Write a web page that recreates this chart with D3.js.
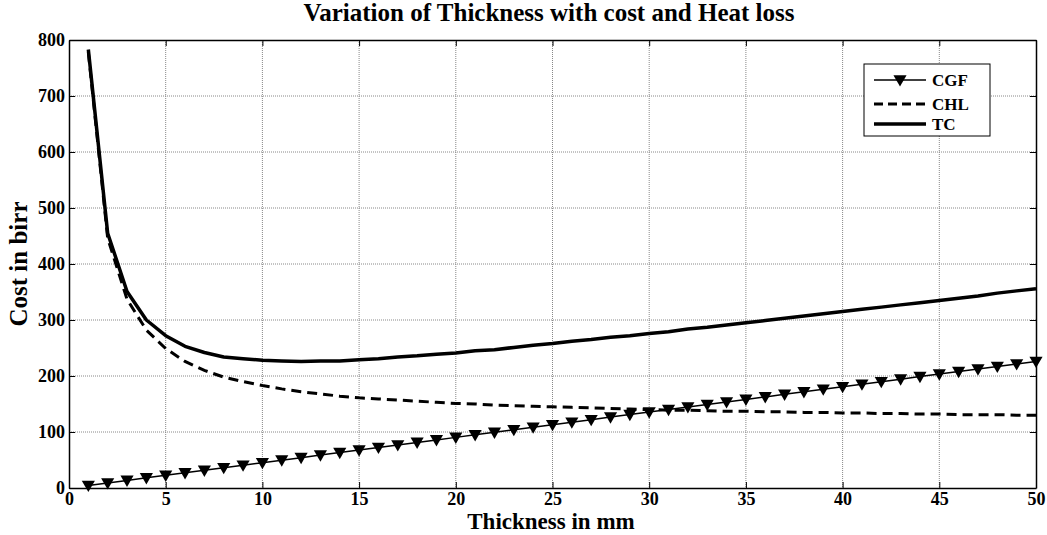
<!DOCTYPE html>
<html>
<head>
<meta charset="utf-8">
<script src="https://cdn.jsdelivr.net/npm/d3@7"></script>
<style>
  body { margin: 0; background: #fff; }
  svg text { font-family: "Liberation Serif", "Times New Roman", Times, serif !important; font-weight: bold; fill: #000; }
</style>
</head>
<body>
<div id="chart"></div>
<script>
const thickness = d3.range(1, 51);

const cgf = [4.5, 9.0, 13.6, 18.1, 22.6, 27.1, 31.6, 36.2, 40.7, 45.2,
  49.7, 54.2, 58.8, 63.3, 67.8, 72.3, 76.8, 81.4, 85.9, 90.4,
  94.9, 99.4, 104.0, 108.5, 113.0, 117.5, 122.0, 126.6, 131.1, 135.6,
  140.1, 144.6, 149.2, 153.7, 158.2, 162.7, 167.2, 171.8, 176.3, 180.8,
  185.3, 189.8, 194.4, 198.9, 203.4, 207.9, 212.4, 217.0, 221.5, 226.0];

const chl = [778, 446, 337, 282, 249, 226, 210, 198, 190, 183,
  177, 172, 168, 164, 161, 159, 157, 155, 153, 151,
  150, 148, 147, 146, 145, 144, 143, 142, 141, 140,
  139, 139, 138, 137, 137, 136, 136, 135, 135, 134,
  134, 133, 133, 132, 132, 131, 131, 131, 130, 130];

const tc = [783, 455, 351, 300, 272, 253, 242, 234, 231, 228,
  227, 226, 227, 227, 229, 231, 234, 236, 239, 241,
  245, 247, 251, 255, 258, 262, 265, 269, 272, 276,
  279, 284, 287, 291, 295, 299, 303, 307, 311, 315,
  319, 323, 327, 331, 335, 339, 343, 348, 352, 356];

const xTicks = [0, 5, 10, 15, 20, 25, 30, 35, 40, 45, 50];
const yTicks = [0, 100, 200, 300, 400, 500, 600, 700, 800];
const seriesNames = ['CGF', 'CHL', 'TC'];

const W = 1047, H = 535;
const margin = { top: 40, right: 11, bottom: 47, left: 69 };
const width = W - margin.left - margin.right;
const height = H - margin.top - margin.bottom;

const svg = d3.select('#chart').append('svg')
  .attr('width', W).attr('height', H);

const g = svg.append('g')
  .attr('transform', `translate(${margin.left},${margin.top})`);

const x = d3.scaleLinear().domain([0, 50]).range([0, width]);
const y = d3.scaleLinear().domain([0, 800]).range([height, 0]);

// dotted grid
g.append('g').selectAll('line')
  .data(xTicks.slice(1, -1))
  .join('line')
    .attr('x1', d => x(d)).attr('x2', d => x(d))
    .attr('y1', 0).attr('y2', height)
    .attr('stroke', '#888').attr('stroke-width', 1)
    .attr('stroke-dasharray', '1,1');

g.append('g').selectAll('line')
  .data(yTicks.slice(1, -1))
  .join('line')
    .attr('y1', d => y(d)).attr('y2', d => y(d))
    .attr('x1', 0).attr('x2', width)
    .attr('stroke', '#888').attr('stroke-width', 1)
    .attr('stroke-dasharray', '1,1');

// axes, ticks point inward on all four sides
const xAxis = g.append('g')
  .attr('transform', `translate(0,${height})`)
  .call(d3.axisBottom(x).tickValues(xTicks).tickSize(-6).tickPadding(4).tickSizeOuter(0));
const yAxis = g.append('g')
  .call(d3.axisLeft(y).tickValues(yTicks).tickSize(-6).tickPadding(4).tickSizeOuter(0));
g.append('g').call(d3.axisTop(x).tickValues(xTicks).tickSize(-6).tickFormat('').tickSizeOuter(0));
g.append('g').attr('transform', `translate(${width},0)`)
  .call(d3.axisRight(y).tickValues(yTicks).tickSize(-6).tickFormat('').tickSizeOuter(0));

svg.selectAll('.domain').attr('stroke', '#000').attr('stroke-width', 1.5);
svg.selectAll('.tick line').attr('stroke', '#000');
[xAxis, yAxis].forEach(a => a.selectAll('text').style('font-size', '18px'));

// lines
const line = d3.line().x((d, i) => x(thickness[i])).y(d => y(d));

g.append('path').datum(cgf).attr('d', line)
  .attr('fill', 'none').attr('stroke', '#000').attr('stroke-width', 1.5);

g.append('path').datum(chl).attr('d', line)
  .attr('fill', 'none').attr('stroke', '#000').attr('stroke-width', 3)
  .attr('stroke-dasharray', '10,6');

g.append('path').datum(tc).attr('d', line)
  .attr('fill', 'none').attr('stroke', '#000').attr('stroke-width', 3.5)
  .attr('stroke-linejoin', 'round');

const tri = d3.symbol().type(d3.symbolTriangle).size(75);
g.append('g').selectAll('path')
  .data(cgf)
  .join('path')
    .attr('d', tri)
    .attr('transform', (d, i) => `translate(${x(thickness[i])},${y(d) - 1}) rotate(180)`)
    .attr('fill', '#000');

// legend
const lg = svg.append('g').attr('transform', 'translate(864,64)');
lg.append('rect').attr('width', 126).attr('height', 72)
  .attr('fill', '#fff').attr('stroke', '#000').attr('stroke-width', 1);
const rows = [16, 40, 60];
seriesNames.forEach((name, i) => {
  const r = lg.append('g').attr('transform', `translate(0,${rows[i]})`);
  const l = r.append('line').attr('x1', 10).attr('x2', 62).attr('stroke', '#000');
  if (name === 'CGF') {
    l.attr('stroke-width', 1.5);
    r.append('path').attr('d', tri)
      .attr('transform', 'translate(36,-1) rotate(180)').attr('fill', '#000');
  } else if (name === 'CHL') {
    l.attr('stroke-width', 3).attr('stroke-dasharray', '9,5');
  } else {
    l.attr('stroke-width', 3.5);
  }
  r.append('text').attr('x', 68).attr('y', 6).style('font-size', '17px').text(name);
});

// titles
svg.append('text').attr('x', 549).attr('y', 21).attr('text-anchor', 'middle')
  .style('font-size', '25px').text('Variation of Thickness with cost and Heat loss');
svg.append('text').attr('x', 551).attr('y', 529).attr('text-anchor', 'middle')
  .style('font-size', '23px').text('Thickness in mm');
svg.append('text').attr('transform', 'translate(27,264) rotate(-90)')
  .attr('text-anchor', 'middle').style('font-size', '25px').text('Cost in birr');
</script>
</body>
</html>
